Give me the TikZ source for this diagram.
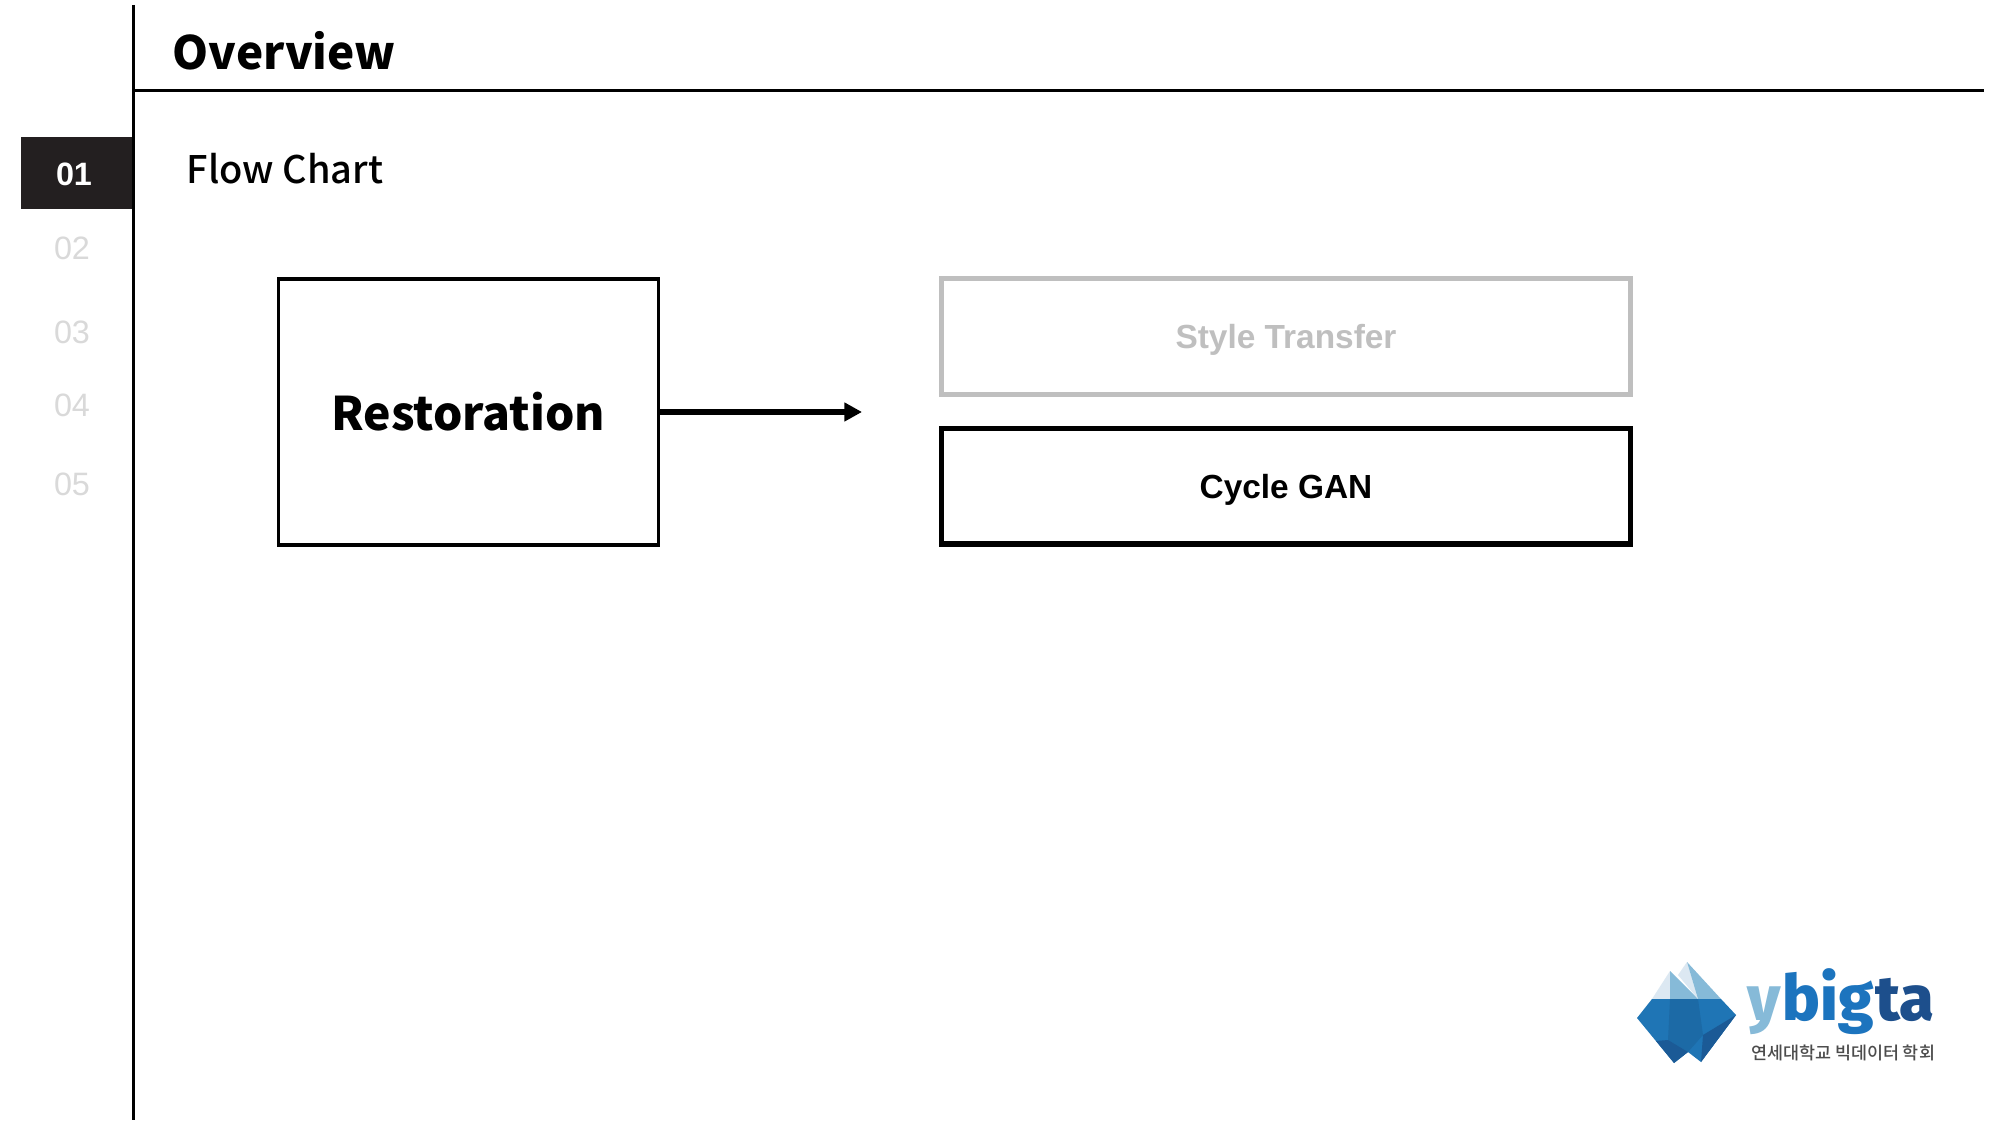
\documentclass[tikz,border=0pt]{standalone}
\usepackage{fontspec}
\setmainfont{Liberation Sans}
\newfontfamily\krfont{Noto Sans CJK KR}
\newfontfamily\krmedium[UprightFont=* Medium]{Noto Sans CJK KR}
\newfontfamily\logofont[BoldFont=* ExtraBold]{Fira Sans}
\usetikzlibrary{arrows.meta}
\definecolor{barblack}{HTML}{231F20}
\definecolor{fadegray}{HTML}{D9D9D9}
\definecolor{boxgray}{HTML}{BFBFBF}
\definecolor{icelight}{HTML}{DCE8F2}
\definecolor{icemid}{HTML}{86BAD8}
\definecolor{iceblue}{HTML}{1F75B5}
\definecolor{icecore}{HTML}{1C6AA6}
\definecolor{icedark}{HTML}{1B5A96}
\definecolor{logoblue}{HTML}{1C74BE}
\definecolor{logonavy}{HTML}{1D4F8C}
\tikzset{
	sidenum/.style={text=fadegray,font=\fontsize{9.2}{12}\selectfont,inner sep=0pt},
	headtext/.style={font=\krfont\bfseries\fontsize{13.05}{18}\selectfont,inner sep=0pt,anchor=base west},
	flowbox/.style={draw=black,line width=1.5pt,minimum width=6.88cm,minimum height=1.157cm,inner sep=0pt,text depth=0pt,font=\bfseries\fontsize{9.5}{12}\selectfont},
	flowarrow/.style={line width=1.7pt,-{Triangle[length=5pt,width=5.1pt]}},
	logotext/.style={font=\logofont\bfseries\fontsize{18}{24}\selectfont,inner sep=0pt,anchor=base west}
}
\begin{document}
\begin{tikzpicture}[x=0.01cm,y=-0.01cm]
	\useasboundingbox (0,0) rectangle (2000,1125);
	\fill[white] (0,0) rectangle (2000,1125);

	% header and side rule
	\fill[barblack] (21,137) rectangle (134.5,209);
	\draw[line width=0.9pt] (133.5,5) -- (133.5,1120);
	\draw[line width=0.9pt] (133.5,90.5) -- (1984,90.5);

	\node[headtext] (overview) at (172,70) {Overview};
	\node[headtext,font=\krmedium\fontsize{10.8}{14}\selectfont] (flowchart) at (186,183.5) {Flow Chart};

	\node[sidenum,text=white,font=\bfseries\fontsize{9.2}{12}\selectfont] (num1) at (74,174) {01};
	\node[sidenum] (num2) at (72,248) {02};
	\node[sidenum] (num3) at (72,332) {03};
	\node[sidenum] (num4) at (72,405) {04};
	\node[sidenum] (num5) at (72,484) {05};

	% flow chart
	\node[draw=black,line width=1pt,minimum width=3.8cm,minimum height=2.66cm,inner sep=0pt,font=\krfont\bfseries\fontsize{13.15}{18}\selectfont] (restoration) at (468.4,412) {Restoration};
	\node[flowbox,draw=boxgray,text=boxgray] (style) at (1286,336.4) {Style Transfer};
	\node[flowbox] (cycle) at (1286,486.2) {Cycle GAN};
	\coordinate (arrowend) at (862,412);
	\draw[flowarrow] (restoration.east) -- (arrowend);

	% logo
	\fill[icelight] (1670,971) -- (1652,999) -- (1670,999) -- cycle;
	\fill[icemid] (1670,971) -- (1698,999) -- (1670,999) -- cycle;
	\fill[icelight] (1687,962) -- (1678,975) -- (1698,999) -- cycle;
	\fill[icemid] (1687,962) -- (1721,999) -- (1698,999) -- cycle;
	\fill[iceblue] (1652,999) -- (1721,999) -- (1736,1015) -- (1701,1062) -- (1688,1052) -- (1674,1063) -- (1637,1018) -- cycle;
	\fill[icecore] (1670,999) -- (1698,999) -- (1703,1035) -- (1688,1052) -- (1668,1040) -- cycle;
	\fill[icedark] (1736,1015) -- (1701,1062) -- (1703,1035) -- cycle;
	\fill[icedark] (1668,1040) -- (1688,1052) -- (1674,1063) -- (1656,1041) -- cycle;

	\node[logotext,text=icemid] (logoy) at (1747,1020) {y};
	\node[logotext,text=logoblue,anchor=base west] (logobig) at (logoy.base east) {big};
	\node[logotext,text=logonavy,anchor=base west] (logota) at (logobig.base east) {ta};
	\node[inner sep=0pt,text=black!70,font=\krmedium\fontsize{4.95}{6}\selectfont] (logokr) at (1843,1053) {연세대학교 빅데이터 학회};
\end{tikzpicture}
\end{document}
